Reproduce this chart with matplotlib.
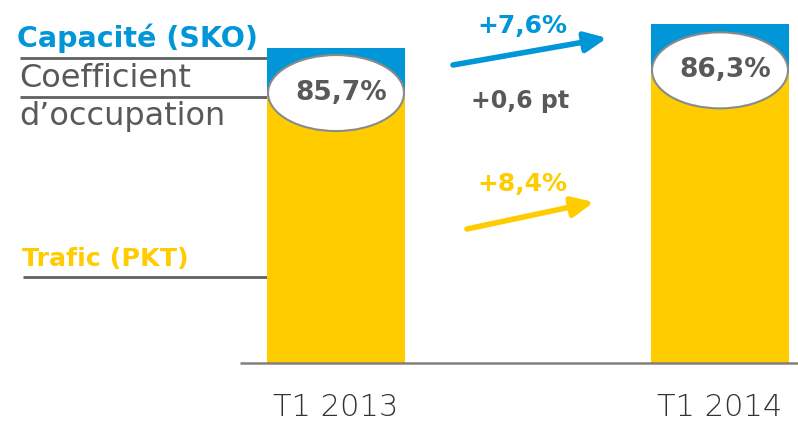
import matplotlib
matplotlib.use("Agg")
import matplotlib.pyplot as plt
from matplotlib.patches import Ellipse

categories = ["T1 2013", "T1 2014"]
capacity = [100.0, 107.6]      # SKO index
traffic = [85.7, 92.9]         # PKT index
load_factor = ["85,7%", "86,3%"]
cap_growth = "+7,6%"
traf_growth = "+8,4%"
lf_change = "+0,6 pt"

BLUE = "#0096D8"
YELLOW = "#FFCC00"
GREY = "#595959"
FONT = ["DejaVu Sans"]

W, H = 798, 425
fig = plt.figure(figsize=(W / 100, H / 100), dpi=100)
ax = fig.add_axes([0, 0, 1, 1])

# pixel mapping: x category centres at 336 and 720 px, y=0 at 363 px, 3.15 px per unit
pxu_x = 384.0
pxu_y = 3.15
x0_px, y0_px = 336.0, 363.0
ax.set_xlim(-x0_px / pxu_x, (W - x0_px) / pxu_x)
ax.set_ylim(-(H - y0_px) / pxu_y, y0_px / pxu_y)
ax.axis("off")

def px(xp, yp):
    return ((xp - x0_px) / pxu_x, (y0_px - yp) / pxu_y)

xs = list(range(len(categories)))
bw = 138 / pxu_x
ax.bar(xs, traffic, width=bw, color=YELLOW, zorder=2)
ax.bar(xs, [c - t for c, t in zip(capacity, traffic)], bottom=traffic, width=bw, color=BLUE, zorder=2)

# baseline
bx0, by = px(240, 363)
ax.plot([bx0, ax.get_xlim()[1]], [0, 0], color="#808080", lw=1.8, zorder=3, solid_capstyle="butt")

# ellipses
for x, t, lf in zip(xs, traffic, load_factor):
    e = Ellipse((x, t), width=136 / pxu_x, height=76 / pxu_y, facecolor="white",
                edgecolor="#8a8a8a", lw=1.5, zorder=4)
    ax.add_patch(e)
    ax.text(x + 5 / pxu_x, t, lf, ha="center", va="center", fontsize=19, fontweight="bold",
            color=GREY, family=FONT, zorder=5)

# category labels
for x, c in zip(xs, categories):
    ax.text(x, px(0, 407)[1], c, ha="center", va="center", fontsize=22,
            color="#333333", family=FONT, fontweight="light")

# left labels and guide lines
def hline(x1, x2, y):
    a = px(x1, y); b = px(x2, y)
    ax.plot([a[0], b[0]], [a[1], b[1]], color="#606060", lw=2, zorder=1, solid_capstyle="butt")

ax.text(*px(17, 38), "Capacité (SKO)", ha="left", va="center", fontsize=20.5,
        fontweight="bold", color=BLUE, family=FONT)
hline(20, 267, 58)
ax.text(*px(19, 78), "Coefficient", ha="left", va="center", fontsize=23,
        color=GREY, family=FONT)
hline(20, 267, 97)
ax.text(*px(19, 117), "d\u2019occupation", ha="left", va="center", fontsize=23,
        color=GREY, family=FONT)
ax.text(*px(22, 259), "Trafic (PKT)", ha="left", va="center", fontsize=18.3,
        fontweight="bold", color=YELLOW, family=FONT)
hline(23, 267, 277)

# growth arrows
def arrow(p1, p2, color):
    ax.annotate("", xy=px(*p2), xytext=px(*p1),
                arrowprops=dict(arrowstyle="-|>,head_length=1.3,head_width=0.6",
                                color=color, lw=4.0, shrinkA=0, shrinkB=0), zorder=3)

arrow((453, 65), (607, 38), BLUE)
ax.text(*px(522, 26), cap_growth, ha="center", va="center", fontsize=18,
        fontweight="bold", color=BLUE, family=FONT)
ax.text(*px(520, 101), lf_change, ha="center", va="center", fontsize=17,
        fontweight="bold", color=GREY, family=FONT)
arrow((467, 229), (594, 202), YELLOW)
ax.text(*px(522, 184), traf_growth, ha="center", va="center", fontsize=18,
        fontweight="bold", color=YELLOW, family=FONT)

fig.savefig("out.png", dpi=100)
